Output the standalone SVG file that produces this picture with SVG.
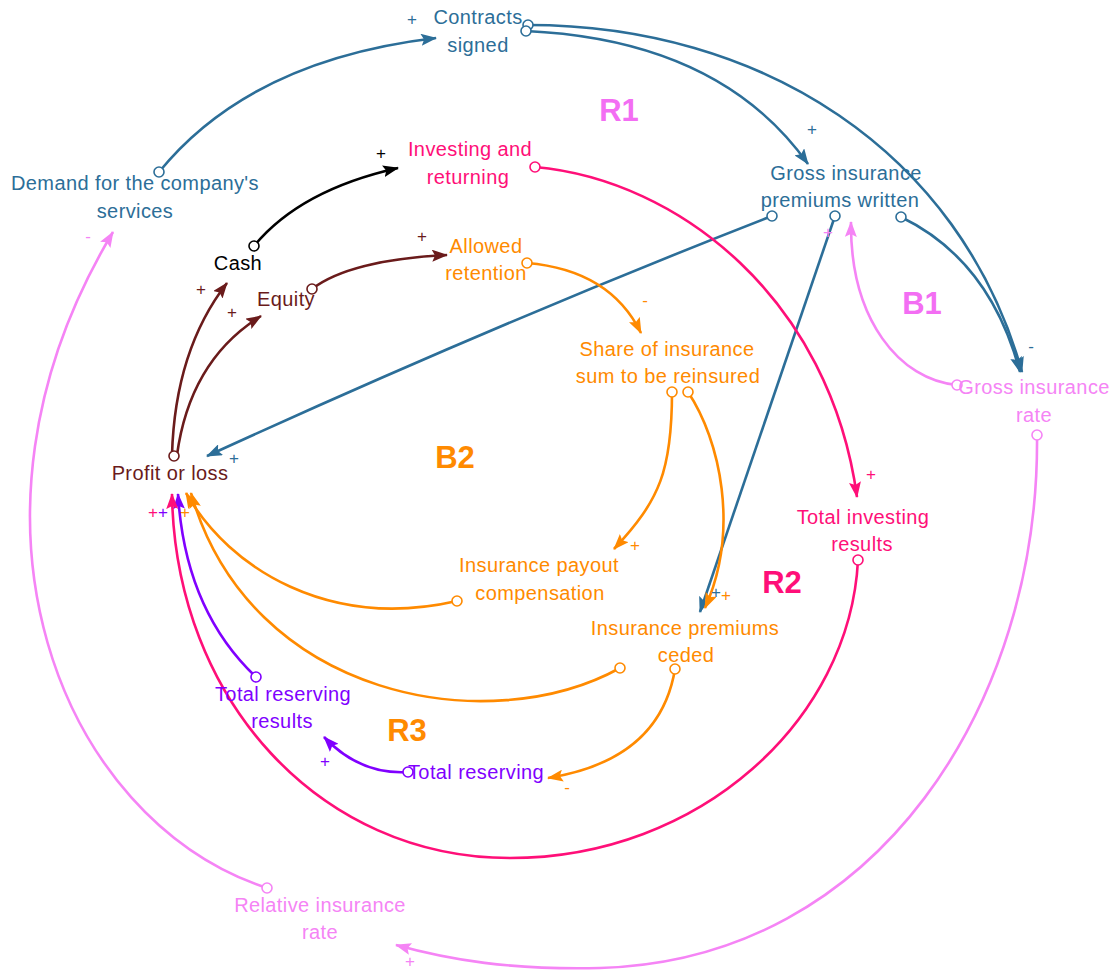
<svg xmlns="http://www.w3.org/2000/svg" width="1115" height="970" viewBox="0 0 1115 970">
<style>
text{font-family:"Liberation Sans",Arial,sans-serif;}
.n{font-size:20px;letter-spacing:0.4px;text-anchor:middle;}
.loop{font-size:31px;font-weight:bold;text-anchor:middle;}
.s{font-size:17px;text-anchor:middle;}
.c{fill:none;stroke-width:2.6;}
.o{fill:#fff;stroke-width:1.6;}
.blue{fill:#2c6e98;} .pink{fill:#ff0f78;} .orange{fill:#ff8a00;} .violet{fill:#8000ff;} .brown{fill:#6a1b1b;} .black{fill:#000;} .lpink{fill:#f584f5;}
.lb{fill:#f36ef3;}
</style>
<defs>
<marker id="ab" viewBox="0 0 16 12" refX="15" refY="6" markerWidth="16" markerHeight="12" markerUnits="userSpaceOnUse" orient="auto"><path d="M0,0 L16,6 L0,12 L3,6 Z" fill="#2c6e98"/></marker>
<marker id="ak" viewBox="0 0 16 12" refX="15" refY="6" markerWidth="16" markerHeight="12" markerUnits="userSpaceOnUse" orient="auto"><path d="M0,0 L16,6 L0,12 L3,6 Z" fill="#000"/></marker>
<marker id="abr" viewBox="0 0 16 12" refX="15" refY="6" markerWidth="16" markerHeight="12" markerUnits="userSpaceOnUse" orient="auto"><path d="M0,0 L16,6 L0,12 L3,6 Z" fill="#6a1b1b"/></marker>
<marker id="ao" viewBox="0 0 16 12" refX="15" refY="6" markerWidth="16" markerHeight="12" markerUnits="userSpaceOnUse" orient="auto"><path d="M0,0 L16,6 L0,12 L3,6 Z" fill="#ff8a00"/></marker>
<marker id="ap" viewBox="0 0 16 12" refX="15" refY="6" markerWidth="16" markerHeight="12" markerUnits="userSpaceOnUse" orient="auto"><path d="M0,0 L16,6 L0,12 L3,6 Z" fill="#ff0f78"/></marker>
<marker id="av" viewBox="0 0 16 12" refX="15" refY="6" markerWidth="16" markerHeight="12" markerUnits="userSpaceOnUse" orient="auto"><path d="M0,0 L16,6 L0,12 L3,6 Z" fill="#8000ff"/></marker>
<marker id="al" viewBox="0 0 16 12" refX="15" refY="6" markerWidth="16" markerHeight="12" markerUnits="userSpaceOnUse" orient="auto"><path d="M0,0 L16,6 L0,12 L3,6 Z" fill="#f584f5"/></marker>
</defs>
<rect width="1115" height="970" fill="#fff"/>

<g id="connectors">
<!-- blue -->
<g stroke="#2c6e98">
<path class="c" d="M159,172 Q250,60 436,38" marker-end="url(#ab)"/>
<path class="c" d="M528,25 C760,25 960,150 1022,372" marker-end="url(#ab)"/>
<path class="c" d="M526,31 Q720,40 808,164" marker-end="url(#ab)"/>
<path class="c" d="M772,216 Q500,322 207,456" marker-end="url(#ab)" stroke-width="3"/>
<path class="c" d="M835,216 L700,612" marker-end="url(#ab)" stroke-width="3"/>
<path class="c" d="M901,217 Q990,260 1020,372" marker-end="url(#ab)"/>
<circle class="o" cx="159" cy="172" r="5"/>
<circle class="o" cx="528" cy="25" r="5"/>
<circle class="o" cx="526" cy="31" r="5"/>
<circle class="o" cx="772" cy="216" r="5"/>
<circle class="o" cx="835" cy="216" r="5"/>
<circle class="o" cx="901" cy="217" r="5"/>
</g>
<!-- black -->
<g stroke="#000">
<path class="c" d="M254,246 Q300,190 398,168" marker-end="url(#ak)"/>
<circle class="o" cx="254" cy="246" r="5"/>
</g>
<!-- brown -->
<g stroke="#6a1b1b">
<path class="c" d="M312,289 Q350,260 447,255" marker-end="url(#abr)"/>
<path class="c" d="M172,455 Q175,350 227,283" marker-end="url(#abr)"/>
<path class="c" d="M177,455 Q190,360 261,316" marker-end="url(#abr)"/>
<circle class="o" cx="312" cy="289" r="5"/>
<circle class="o" cx="174" cy="456" r="5"/>
</g>
<!-- orange -->
<g stroke="#ff8a00">
<path class="c" d="M527,263 Q610,270 641,333" marker-end="url(#ao)"/>
<path class="c" d="M672,392 C672,470 660,500 614,549" marker-end="url(#ao)"/>
<path class="c" d="M688,392 C720,440 740,530 705,608" marker-end="url(#ao)"/>
<path class="c" d="M457,601 C330,630 230,570 186,493" marker-end="url(#ao)"/>
<path class="c" d="M620,668 C490,740 250,700 191,493" marker-end="url(#ao)"/>
<path class="c" d="M675,669 Q660,760 548,778" marker-end="url(#ao)"/>
<circle class="o" cx="527" cy="263" r="5"/>
<circle class="o" cx="672" cy="392" r="5"/>
<circle class="o" cx="688" cy="392" r="5"/>
<circle class="o" cx="457" cy="601" r="5"/>
<circle class="o" cx="620" cy="668" r="5"/>
<circle class="o" cx="675" cy="669" r="5"/>
</g>
<!-- violet -->
<g stroke="#8000ff">
<path class="c" d="M256,677 Q185,610 178,494" marker-end="url(#av)"/>
<path class="c" d="M408,772 Q360,775 324,737" marker-end="url(#av)"/>
<circle class="o" cx="256" cy="677" r="5"/>
<circle class="o" cx="408" cy="772" r="5"/>
</g>
<!-- pink -->
<g stroke="#ff0f78">
<path class="c" d="M535,167 C680,180 830,300 857,497" marker-end="url(#ap)"/>
<path class="c" d="M858,560 C850,720 700,858 510,858 C320,858 175,700 172,494" marker-end="url(#ap)"/>
<circle class="o" cx="535" cy="167" r="5"/>
<circle class="o" cx="858" cy="560" r="5"/>
</g>
<!-- light pink -->
<g stroke="#f584f5">
<path class="c" d="M957,385 C900,380 850,320 851,222" marker-end="url(#al)" stroke-width="2.2"/>
<path class="c" d="M1037,435 C1040,700 880,960 600,968 C510,970 450,960 396,945" marker-end="url(#al)" stroke-width="2.2"/>
<path class="c" d="M267,888 C60,820 -60,520 113,232" marker-end="url(#al)" stroke-width="2.2"/>
<circle class="o" cx="957" cy="385" r="5"/>
<circle class="o" cx="1037" cy="435" r="5"/>
<circle class="o" cx="267" cy="888" r="5"/>
</g>
<!-- polarity signs -->
<text class="s blue" x="412" y="25">+</text>
<text class="s blue" x="1031" y="352">-</text>
<text class="s blue" x="812" y="135">+</text>
<text class="s blue" x="234" y="464">+</text>
<text class="s blue" x="716" y="598">+</text>
<text class="s black" x="381" y="159">+</text>
<text class="s brown" x="422" y="242">+</text>
<text class="s brown" x="201" y="295">+</text>
<text class="s brown" x="232" y="318">+</text>
<text class="s orange" x="645" y="306">-</text>
<text class="s orange" x="635" y="551">+</text>
<text class="s orange" x="726" y="601">+</text>
<text class="s orange" x="567" y="793">-</text>
<text class="s orange" x="185" y="518">+</text>
<text class="s pink" x="153" y="518">+</text>
<text class="s violet" x="163" y="518">+</text>
<text class="s violet" x="325" y="767">+</text>
<text class="s pink" x="871" y="480">+</text>
<text class="s lpink" x="828" y="238">+</text>
<text class="s lpink" x="410" y="967" font-size="15">+</text>
<text class="s lpink" x="88" y="242">-</text>
</g>

<g id="loops">
<text class="loop lb" x="619" y="121">R1</text>
<text class="loop lb" x="922" y="314">B1</text>
<text class="loop orange" x="455" y="468">B2</text>
<text class="loop pink" x="782" y="593">R2</text>
<text class="loop orange" x="407" y="741">R3</text>
</g>

<g id="contracts-signed"><text class="n blue" x="478" y="24">Contracts</text><text class="n blue" x="478" y="52">signed</text></g>
<g id="demand"><text class="n blue" x="135" y="190">Demand for the company's</text><text class="n blue" x="135" y="218">services</text></g>
<g id="investing-returning"><text class="n pink" x="470" y="156">Investing and</text><text class="n pink" x="468" y="184">returning</text></g>
<g id="gross-premiums"><text class="n blue" x="846" y="180">Gross insurance</text><text class="n blue" x="840" y="207">premiums written</text></g>
<g id="cash"><text class="n black" x="238" y="270">Cash</text></g>
<g id="equity"><text class="n brown" x="286" y="306">Equity</text></g>
<g id="allowed-retention"><text class="n orange" x="486" y="253">Allowed</text><text class="n orange" x="486" y="280">retention</text></g>
<g id="share-reinsured"><text class="n orange" x="667" y="356">Share of insurance</text><text class="n orange" x="668" y="383">sum to be reinsured</text></g>
<g id="gross-rate"><text class="n lpink" x="1034" y="394">Gross insurance</text><text class="n lpink" x="1034" y="422">rate</text></g>
<g id="profit-loss"><text class="n brown" x="170" y="480">Profit or loss</text></g>
<g id="total-investing"><text class="n pink" x="863" y="524">Total investing</text><text class="n pink" x="862" y="551">results</text></g>
<g id="payout"><text class="n orange" x="539" y="572">Insurance payout</text><text class="n orange" x="540" y="600">compensation</text></g>
<g id="premiums-ceded"><text class="n orange" x="685" y="635">Insurance premiums</text><text class="n orange" x="686" y="662">ceded</text></g>
<g id="total-reserving-results"><text class="n violet" x="283" y="701">Total reserving</text><text class="n violet" x="282" y="728">results</text></g>
<g id="total-reserving"><text class="n violet" x="476" y="779">Total reserving</text></g>
<g id="relative-rate"><text class="n lpink" x="320" y="912">Relative insurance</text><text class="n lpink" x="320" y="939">rate</text></g>
</svg>
